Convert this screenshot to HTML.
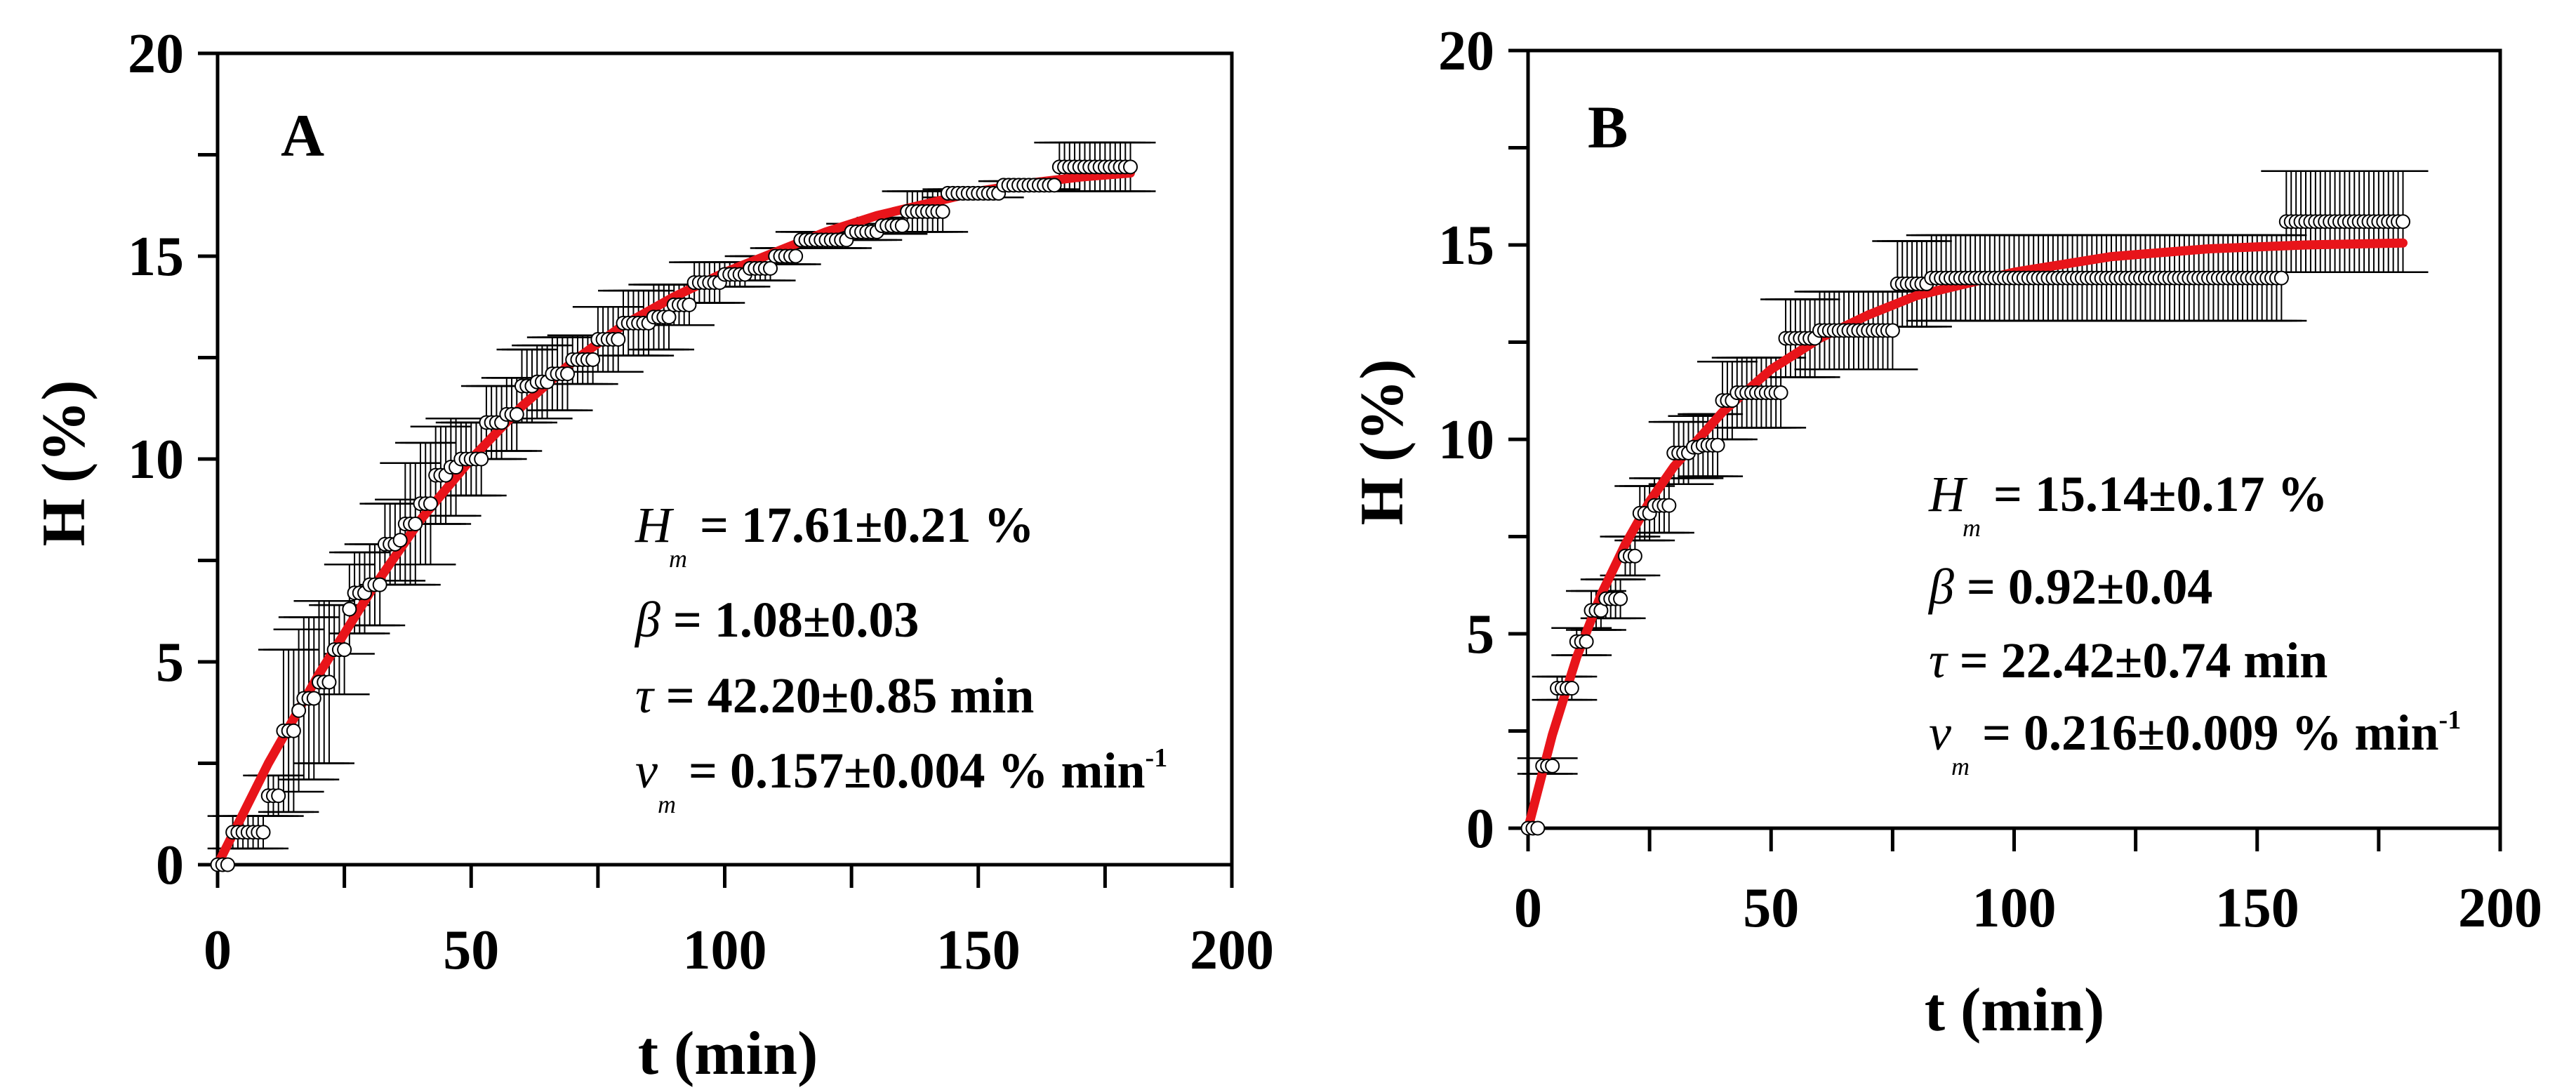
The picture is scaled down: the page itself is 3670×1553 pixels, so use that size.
<!DOCTYPE html>
<html><head><meta charset="utf-8"><style>
html,body{margin:0;padding:0;background:#fff}
svg{display:block}
text{font-family:"Liberation Serif",serif;font-weight:bold;fill:#000}
</style></head><body>
<svg id="chart" xmlns="http://www.w3.org/2000/svg" width="3670" height="1553" viewBox="0 0 3670 1553">
<rect width="3670" height="1553" fill="#fff"/>
</svg>
<script>
// ---- Panel A data (steps: start min, end min, H %, error) ----
const aStepStart = [0,3,10,13,16,17,20,23,26,27,30,33,36,37,40,43,46,48,53,57,60,63,66,70,75,80,86,90,94,100,105,110,115,125,131,136,144,155,166];
const aStepEnd   = [2,9,12,15,16,19,22,25,26,29,32,35,36,39,42,45,47,52,56,59,62,65,69,74,79,85,89,93,99,104,109,114,124,130,135,143,154,165,180];
const aValues    = [0,0.8,1.7,3.3,3.8,4.1,4.5,5.3,6.3,6.7,6.9,7.9,8.0,8.4,8.9,9.6,9.8,10.0,10.9,11.1,11.8,11.9,12.1,12.45,12.95,13.35,13.5,13.8,14.35,14.55,14.7,15.0,15.4,15.6,15.75,16.1,16.55,16.75,17.2];
const aErrors    = [0,0.4,0.5,2.0,2.0,2.0,2.0,1.1,1.1,1.0,1.0,1.0,1.0,1.5,1.5,1.2,1.2,0.9,0.9,0.9,0.9,0.9,0.9,0.6,0.8,0.8,0.8,0.5,0.5,0.3,0.3,0.2,0.2,0.2,0.2,0.5,0.1,0.1,0.6];
const aFitT = [0,10,20,30,40,50,60,70,80,90,100,110,120,130,140,150,160,170,180];
const aFitH = [0,2.5,4.7,6.7,8.5,10.0,11.3,12.4,13.3,14.0,14.6,15.1,15.6,16.0,16.3,16.6,16.8,16.95,17.05];
// ---- Panel B data ----
const bStepStart = [0,3,6,10,13,16,20,23,26,30,34,36,40,43,53,60,76,83,156];
const bStepEnd   = [2,5,9,12,15,19,22,25,29,33,35,39,42,52,59,75,82,155,180];
const bValues    = [0,1.6,3.6,4.8,5.6,5.9,7.0,8.1,8.3,9.65,9.8,9.85,11.0,11.2,12.6,12.8,14.0,14.15,15.6];
const bErrors    = [0,0.2,0.3,0.35,0.5,0.5,0.5,0.7,0.7,0.8,0.8,0.8,1.0,0.9,1.0,1.0,1.1,1.1,1.3];
const bFitT = [0,5,10,15,20,25,30,40,50,60,70,80,90,100,120,140,160,180];
const bFitH = [0,2.4,4.4,6.0,7.3,8.4,9.3,10.7,11.8,12.6,13.2,13.7,14.0,14.3,14.7,14.9,15.0,15.05];
const xTicks = [0,50,100,150,200];
const yTicks = [0,5,10,15,20];

const NS='http://www.w3.org/2000/svg';
const svg=document.getElementById('chart');
function mk(tag,attrs,parent){const e=document.createElementNS(NS,tag);for(const k in attrs)e.setAttribute(k,attrs[k]);(parent||svg).appendChild(e);return e;}

function panel(p){
  const g=mk('g',{});
  
  
  const X=t=>p.x0+(p.x1-p.x0)*t/200;
  const Y=h=>p.y0-(p.y0-p.y1)*h/20;
  const fr=mk('rect',{x:p.x0,y:p.y1,width:p.x1-p.x0,height:p.y0-p.y1,fill:'none',stroke:'#000','stroke-width':5},g);
  
  
  for(let t=0;t<=200;t+=25){mk('line',{x1:X(t),x2:X(t),y1:p.y0,y2:p.y0+33,stroke:'#000','stroke-width':5},g);}
  for(let h=0;h<=20;h+=2.5){mk('line',{x1:p.x0-28,x2:p.x0,y1:Y(h),y2:Y(h),stroke:'#000','stroke-width':5},g);}
  xTicks.forEach(t=>{const e=mk('text',{x:X(t),y:p.xLabY,'font-size':80,'text-anchor':'middle'},g);e.textContent=t;
    
    });
  yTicks.forEach(h=>{const e=mk('text',{x:p.x0-48,y:Y(h)+27,'font-size':80,'text-anchor':'end'},g);e.textContent=h;
    
    });
  const eg=mk('g',{},g);
  
  
  const mg=mk('g',{},g);
  
  
  const pts=[];
  for(let i=0;i<p.s.length;i++){for(let t=p.s[i];t<=p.e[i];t++){pts.push([t,p.v[i],p.err[i]]);}}
  pts.forEach(([t,v,er])=>{
    if(er>0){
      mk('line',{x1:X(t),x2:X(t),y1:Y(v-er),y2:Y(v+er),stroke:'#000','stroke-width':2},eg);
      mk('line',{x1:X(t)-36,x2:X(t)+36,y1:Y(v+er),y2:Y(v+er),stroke:'#000','stroke-width':2.5},eg);
      mk('line',{x1:X(t)-36,x2:X(t)+36,y1:Y(v-er),y2:Y(v-er),stroke:'#000','stroke-width':2.5},eg);
    }
  });
  let d='';p.ft.forEach((t,i)=>{d+=(i?'L':'M')+X(t).toFixed(1)+','+Y(p.fh[i]).toFixed(1);});
  const c=mk('path',{d:d,fill:'none',stroke:'#e8141a','stroke-width':13,'stroke-linecap':'round','stroke-linejoin':'round'},g);
  
  
  g.appendChild(mg);
  pts.forEach(([t,v])=>{mk('ellipse',{cx:X(t),cy:Y(v),rx:9.5,ry:9.5,fill:'#fff',stroke:'#000','stroke-width':2},mg);});
  const xt=mk('text',{x:p.xTitleX,y:p.xTitleY,'font-size':88,'text-anchor':'middle'},g);xt.textContent='t (min)';
  
  
  const yt=mk('text',{x:0,y:0,'font-size':88,'text-anchor':'middle',transform:`translate(${p.yTitleX},${p.yTitleY}) rotate(-90)`},g);yt.textContent='H (%)';
  
  
  const pl=mk('text',{x:p.labX,y:p.labY,'font-size':86},g);pl.textContent=p.label;
  
  
  const an=mk('g',{'font-size':72},g);
  
  
  const ax=p.annX, ay=p.annY;
  an.innerHTML=
   `<text x="${ax}" y="${ay[0]}"><tspan font-style="italic" font-weight="normal">H</tspan><tspan font-style="italic" font-weight="normal" font-size="36" dx="-4" dy="36">m</tspan><tspan dx="18" dy="-36">=  ${p.t1}</tspan></text>`+
   `<text x="${ax}" y="${ay[1]}"><tspan font-style="italic" font-weight="normal">β</tspan><tspan> = ${p.t2}</tspan></text>`+
   `<text x="${ax}" y="${ay[2]}"><tspan font-style="italic" font-weight="normal">τ</tspan><tspan> = ${p.t3}</tspan></text>`+
   `<text x="${ax}" y="${ay[3]}"><tspan font-style="italic" font-weight="normal">v</tspan><tspan font-style="italic" font-weight="normal" font-size="36" dy="36">m</tspan><tspan dx="18" dy="-36">= ${p.t4} % min</tspan><tspan font-size="38" dy="-30">-1</tspan></text>`;
}

panel({id:'panel-a',x0:310,x1:1755,y0:1232,y1:76,s:aStepStart,e:aStepEnd,v:aValues,err:aErrors,ft:aFitT,fh:aFitH,
  xLabY:1380,xTitleX:1037,xTitleY:1530,yTitleX:120,yTitleY:660,label:'A',labX:400,labY:222,
  annX:905,annY:[772,907,1015,1122],t1:'17.61±0.21 %',t2:'1.08±0.03',t3:'42.20±0.85 min',t4:'0.157±0.004'});
panel({id:'panel-b',x0:2177,x1:3562,y0:1180,y1:72,s:bStepStart,e:bStepEnd,v:bValues,err:bErrors,ft:bFitT,fh:bFitH,
  xLabY:1320,xTitleX:2870,xTitleY:1468,yTitleX:1998,yTitleY:630,label:'B',labX:2262,labY:210,
  annX:2748,annY:[728,860,965,1068],t1:'15.14±0.17 %',t2:'0.92±0.04',t3:'22.42±0.74 min',t4:'0.216±0.009'});
</script>
</body></html>
